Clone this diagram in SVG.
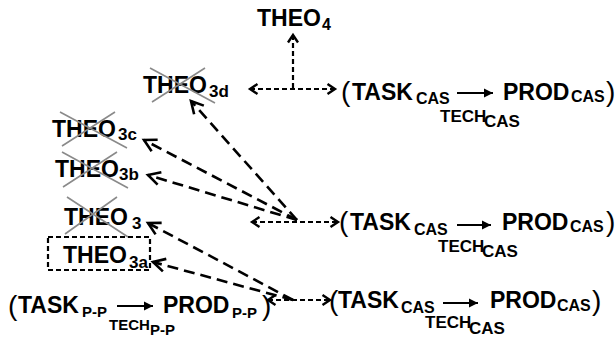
<svg xmlns="http://www.w3.org/2000/svg" width="615" height="338" viewBox="0 0 615 338">
<style>
text{font-family:"Liberation Sans",Arial,sans-serif;font-weight:bold;fill:#000}
.m{font-size:23px}
.s{font-size:16px}
.t{font-size:17px}
.u{font-size:15px}
.p{font-size:28px;font-weight:normal}
.x{stroke:#8a8a8a;stroke-width:1.6;fill:none}
.sd{stroke:#000;stroke-width:2.2;fill:none;stroke-dasharray:5 3}
.ld{stroke:#000;stroke-width:2.6;fill:none;stroke-dasharray:11 6}
.so{stroke:#000;stroke-width:2.2;fill:none}
</style>
<defs>
<marker id="ah" markerUnits="userSpaceOnUse" markerWidth="13" markerHeight="13" refX="10" refY="6.5" orient="auto-start-reverse">
<path d="M2.5,1.5 L10,6.5 L2.5,11.5" fill="none" stroke="#000" stroke-width="2.4" stroke-dasharray="none"/>
</marker>
<marker id="ahl" markerUnits="userSpaceOnUse" markerWidth="18" markerHeight="18" refX="14" refY="9" orient="auto-start-reverse">
<path d="M2,2.5 L14,9 L2,15.5" fill="none" stroke="#000" stroke-width="2.6" stroke-dasharray="none"/>
</marker>
<marker id="sa" markerUnits="userSpaceOnUse" markerWidth="12" markerHeight="12" refX="10" refY="6" orient="auto">
<path d="M1,1.5 L10,6 L1,10.5 Z" fill="#000" stroke="none"/>
</marker>
</defs>

<g id="connectors">
<path class="sd" d="M293,88 V35" marker-end="url(#ah)"/>
<path class="sd" d="M250,89 H335" marker-start="url(#ah)" marker-end="url(#ah)"/>
<path class="sd" d="M252,222 H338" marker-start="url(#ah)" marker-end="url(#ah)"/>
<path class="sd" d="M268,300 H330" marker-start="url(#ah)" marker-end="url(#ah)"/>
<path class="ld" d="M297,220 L191,101" marker-end="url(#ahl)"/>
<path class="ld" d="M297,220 L144,140" marker-end="url(#ahl)"/>
<path class="ld" d="M297,220 L148,175" marker-end="url(#ahl)"/>
<path class="ld" d="M293,300 L148,223" marker-end="url(#ahl)"/>
<path class="ld" d="M293,300 L153,262" marker-end="url(#ahl)"/>
</g>

<g id="theo4">
<text class="m" x="257" y="26">THEO</text><text class="s" x="322" y="30">4</text>
</g>

<g id="theo3d">
<text class="m" x="143" y="93">THEO</text><text class="t" x="209" y="97">3d</text>
<path class="x" d="M150,68 L215,103 M205,68 L152,102"/>
</g>

<g id="theo3c">
<text class="m" x="52" y="137">THEO</text><text class="t" x="118" y="140">3c</text>
<path class="x" d="M60,112 L127,148 M115,112 L62,146"/>
</g>

<g id="theo3b">
<text class="m" x="55" y="177">THEO</text><text class="t" x="119" y="180">3b</text>
<path class="x" d="M62,152 L128,188 M117,152 L63,187"/>
</g>

<g id="theo3">
<text class="m" x="64" y="225">THEO</text><text class="t" x="132" y="229">3</text>
<path class="x" d="M67,197 L128,237 M117,197 L65,234"/>
</g>

<g id="theo3a">
<rect class="sd" x="48" y="237" width="102" height="33"/>
<text class="m" x="63" y="263">THEO</text><text class="t" x="129" y="268">3a</text>
</g>

<g id="cas1">
<text class="p" x="341" y="101">(</text>
<text class="m" x="352" y="100">TASK</text><text class="s" x="416" y="104">CAS</text>
<path class="so" d="M457,93 H493" marker-end="url(#sa)"/>
<text class="m" x="503" y="100">PROD</text><text class="s" x="571" y="102">CAS</text>
<text class="p" x="606" y="101">)</text>
<text class="t" x="440" y="122">TECH</text><text class="t" x="484" y="127">CAS</text>
</g>

<g id="cas2">
<text class="p" x="339" y="231">(</text>
<text class="m" x="350" y="230">TASK</text><text class="s" x="414" y="235">CAS</text>
<path class="so" d="M457,225 H491" marker-end="url(#sa)"/>
<text class="m" x="502" y="230">PROD</text><text class="s" x="570" y="232">CAS</text>
<text class="p" x="606" y="231">)</text>
<text class="t" x="438" y="252">TECH</text><text class="t" x="482" y="257">CAS</text>
</g>

<g id="cas3">
<text class="p" x="329" y="310">(</text>
<text class="m" x="338" y="308">TASK</text><text class="s" x="401" y="313">CAS</text>
<path class="so" d="M443,303 H478" marker-end="url(#sa)"/>
<text class="m" x="490" y="308">PROD</text><text class="s" x="557" y="311">CAS</text>
<text class="p" x="592" y="310">)</text>
<text class="t" x="425" y="328">TECH</text><text class="t" x="469" y="334">CAS</text>
</g>

<g id="pp">
<text class="p" x="8" y="315">(</text>
<text class="m" x="18" y="313">TASK</text><text class="u" x="82" y="317">P-P</text>
<path class="so" d="M117,306 H153" marker-end="url(#sa)"/>
<text class="m" x="163" y="313">PROD</text><text class="u" x="232" y="318">P-P</text>
<text class="p" x="262" y="315">)</text>
<text class="u" x="109" y="330">TECH</text><text class="u" x="150" y="335">P-P</text>
</g>
</svg>
